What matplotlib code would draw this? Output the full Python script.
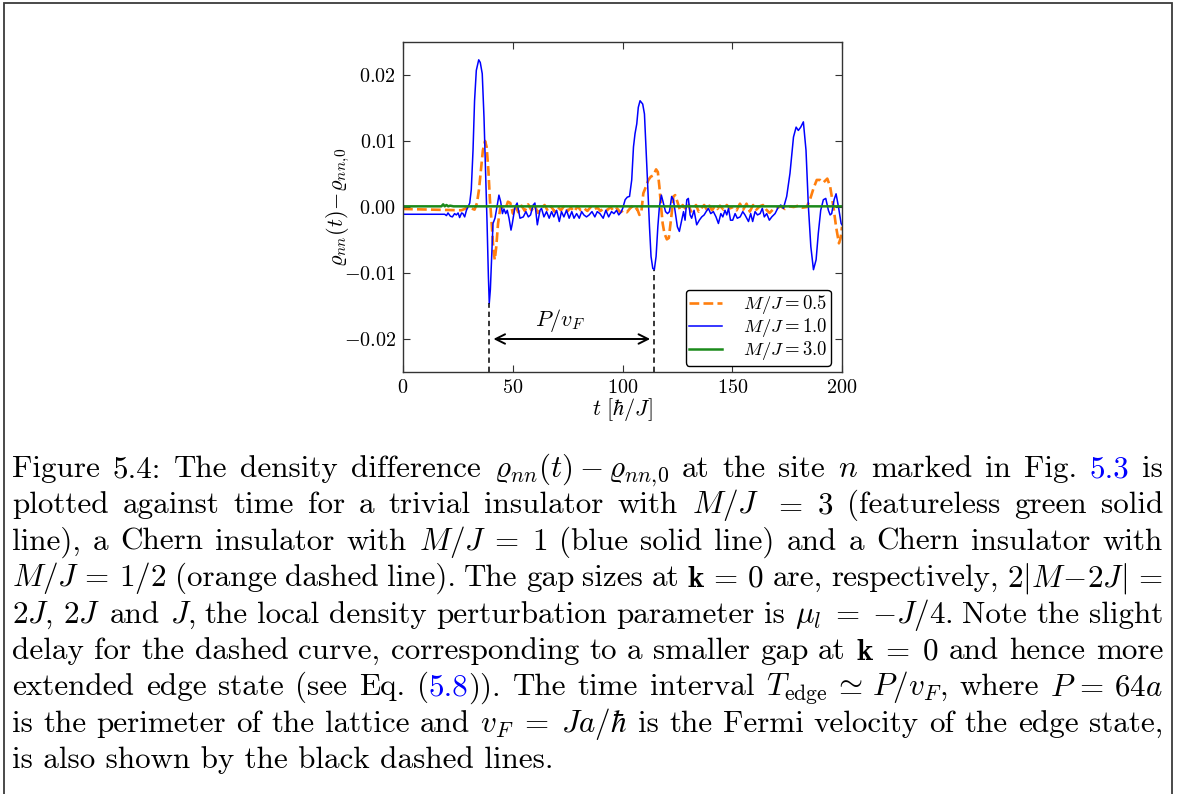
import re
import numpy as np
import matplotlib
matplotlib.use("Agg")
import matplotlib.pyplot as plt
from matplotlib.patches import Rectangle
from matplotlib.ticker import FuncFormatter

plt.rcParams.update({
    "font.family": "cmr10",
    "mathtext.fontset": "cm",
    "axes.formatter.use_mathtext": True,
    "axes.unicode_minus": True,
})

# ---------------------------------------------------------------- data
# density difference rho_nn(t) - rho_nn,0 at the marked site, t in hbar/J
t_half = [0, 26.6, 28.0, 29.6, 31.1, 32.6, 33.7, 34.6, 35.5, 36.4, 37.4, 38.1, 38.9,
          39.6, 40.4, 41.2, 41.8, 42.5, 43.3, 44.3, 45.6, 46.8, 47.8, 48.9, 50.1,
          51.0, 52.5, 54.0, 55.5, 57.0, 58.5, 60.0, 61.5, 63.0, 64.5, 66.0, 67.5,
          69.0, 70.5, 72.0, 73.5, 75.0, 76.5, 78.0, 79.5, 81.0, 82.5, 84.0, 85.5,
          87.0, 88.5, 90.0, 91.5, 93.0, 94.5, 96.0, 97.5, 99.0, 100.5, 102.0,
          103.2, 104.2, 105.7, 106.6, 107.7, 108.6, 109.5, 110.7, 111.8, 112.9,
          114.1, 115.3, 116.1, 116.8, 117.6, 118.3, 119.1, 120.2, 121.1, 121.7,
          122.4, 123.2, 124.0, 125.0, 126.2, 127.4, 128.5, 130.0, 131.1, 132.3,
          133.5, 134.7, 135.9, 137.2, 138.4, 139.6, 140.8, 142.0, 143.2, 144.4,
          146.0, 147.5, 149.0, 150.5, 152.0, 153.5, 155.0, 156.5, 158.0, 159.5,
          161.0, 162.5, 164.0, 165.5, 167.0, 168.5, 170.3, 172.0, 174.0, 176.0,
          178.0, 180.0, 182.0, 183.9, 185.4, 187.0, 188.5, 190.0, 191.5, 193.3,
          194.6, 196.1, 197.3, 198.6, 199.3, 200.0]
rho_half = [-0.0003, -0.0005, -0.0003, 0.0000, -0.0002, -0.0004, 0.0006, 0.0026,
            0.0056, 0.0086, 0.0100, 0.0091, 0.0056, 0.0011, -0.0025, -0.0065,
            -0.0080, -0.0060, -0.0025, -0.0002, 0.0000, -0.0002, 0.0008, 0.0006,
            -0.0010, 0.0003, -0.0008, 0.0002, -0.0006, 0.0004, -0.0005, 0.0002,
            -0.0009, -0.0002, 0.0003, -0.0006, 0.0001, -0.0007, 0.0000, -0.0005,
            0.0002, -0.0006, -0.0001, -0.0007, 0.0001, -0.0005, -0.0002, -0.0006,
            0.0000, -0.0004, -0.0001, -0.0006, -0.0002, -0.0005, 0.0000, -0.0006,
            -0.0002, -0.0008, -0.0005, -0.0008, -0.0003, 0.0001, -0.0005, -0.0002,
            -0.0012, -0.0007, 0.0021, 0.0031, 0.0041, 0.0046, 0.0048, 0.0057,
            0.0053, 0.0031, 0.0000, -0.0025, -0.0040, -0.0049, -0.0047, -0.0030,
            -0.0010, 0.0016, 0.0018, 0.0008, -0.0005, 0.0003, -0.0002, 0.0006,
            -0.0007, -0.0002, 0.0003, -0.0007, -0.0002, 0.0003, -0.0004, 0.0002,
            -0.0005, 0.0001, -0.0003, 0.0002, -0.0004, 0.0003, -0.0002, 0.0000,
            -0.0005, 0.0005, -0.0004, 0.0005, -0.0007, 0.0003, -0.0004, 0.0001,
            0.0003, -0.0004, -0.0009, -0.0004, -0.0002, 0.0001, -0.0003, 0.0001,
            0.0000, 0.0002, -0.0001, 0.0000, 0.0011, 0.0028, 0.0041, 0.0041,
            0.0037, 0.0043, 0.0031, 0.0000, -0.0030, -0.0055, -0.0048, -0.0030]

t_one = [0, 19.0, 19.8, 20.5, 21.6, 22.5, 23.5, 24.3, 25.1, 25.8, 26.7, 27.3, 28.1,
         28.9, 29.6, 30.4, 31.1, 31.9, 32.6, 33.4, 34.5, 35.2, 36.1, 36.9, 37.7,
         38.3, 38.9, 39.3, 39.8, 40.4, 41.0, 41.9, 42.8, 43.7, 44.5, 45.3, 46.0,
         46.8, 47.5, 48.3, 49.2, 49.8, 51.0, 52.0, 53.3, 54.8, 56.0, 57.1, 58.1,
         59.3, 60.1, 61.2, 62.4, 63.1, 64.2, 65.4, 66.6, 67.7, 68.7, 70.0, 71.2,
         72.2, 73.3, 74.5, 75.7, 76.9, 77.9, 79.1, 80.3, 81.4, 82.4, 83.6, 84.8,
         86.1, 87.4, 88.5, 89.7, 91.2, 92.4, 93.7, 95.0, 96.1, 97.3, 98.3, 99.3,
         100.1, 101.2, 102.2, 103.2, 104.2, 105.0, 105.7, 106.5, 107.2, 108.0,
         109.2, 110.0, 110.7, 111.5, 112.3, 113.0, 113.8, 114.5, 115.3, 116.1,
         116.8, 117.7, 118.6, 119.6, 120.5, 121.4, 122.4, 123.2, 124.0, 125.0,
         125.9, 127.0, 127.8, 128.5, 129.3, 130.0, 130.8, 131.5, 132.6, 133.8,
         135.0, 136.1, 137.2, 138.1, 139.1, 140.2, 141.4, 142.6, 143.7, 144.8,
         145.7, 146.7, 147.5, 148.3, 149.2, 150.2, 151.3, 152.3, 153.6, 154.8,
         155.8, 157.4, 158.4, 159.3, 160.4, 161.5, 162.7, 163.7, 164.6, 165.7,
         166.9, 168.0, 169.5, 171.0, 172.1, 173.3, 174.8, 176.3, 177.9, 179.1,
         180.1, 181.2, 182.4, 183.6, 184.7, 185.8, 187.0, 188.2, 189.2, 190.3,
         191.5, 192.6, 193.8, 194.6, 195.3, 196.4, 197.3, 198.4, 199.6, 200.0]
rho_one = [-0.0011, -0.0011, -0.0013, -0.0009, -0.0014, -0.0015, -0.0010, -0.0012,
           -0.0009, -0.0016, -0.0009, -0.0010, -0.0015, -0.0005, 0.0000, 0.0006,
           0.0026, 0.0086, 0.0161, 0.0207, 0.0223, 0.0219, 0.0202, 0.0136, 0.0046,
           -0.0025, -0.0105, -0.0146, -0.0125, -0.0075, -0.0025, -0.0017, 0.0000,
           0.0018, 0.0008, -0.0010, -0.0003, -0.0010, -0.0005, -0.0017, -0.0035,
           -0.0025, 0.0000, 0.0006, -0.0017, -0.0015, -0.0007, -0.0015, -0.0012,
           0.0003, 0.0006, -0.0027, -0.0005, -0.0002, -0.0015, -0.0007, -0.0017,
           -0.0007, -0.0015, -0.0005, -0.0022, -0.0007, -0.0015, -0.0005, -0.0017,
           -0.0007, -0.0017, -0.0010, -0.0017, -0.0007, -0.0012, -0.0015, -0.0012,
           -0.0007, -0.0015, -0.0007, -0.0010, -0.0017, -0.0005, -0.0015, -0.0007,
           -0.0010, -0.0005, -0.0012, -0.0008, -0.0002, 0.0011, 0.0015, 0.0016,
           0.0041, 0.0091, 0.0111, 0.0126, 0.0151, 0.0161, 0.0156, 0.0141, 0.0091,
           0.0031, -0.0030, -0.0075, -0.0093, -0.0095, -0.0075, -0.0030, 0.0000,
           0.0018, 0.0006, -0.0007, -0.0010, -0.0007, 0.0016, 0.0011, -0.0007,
           -0.0030, -0.0037, -0.0020, -0.0007, -0.0020, 0.0011, 0.0013, -0.0012,
           -0.0017, -0.0005, -0.0027, -0.0020, -0.0015, -0.0012, -0.0007, -0.0002,
           -0.0010, -0.0007, -0.0015, -0.0025, -0.0010, -0.0015, -0.0005, -0.0012,
           -0.0002, -0.0020, -0.0020, -0.0010, -0.0017, -0.0015, -0.0007, -0.0012,
           -0.0022, -0.0010, -0.0022, -0.0007, -0.0012, -0.0010, -0.0002, -0.0015,
           -0.0010, -0.0020, -0.0015, -0.0010, 0.0000, 0.0003, -0.0002, 0.0016,
           0.0051, 0.0106, 0.0121, 0.0116, 0.0121, 0.0129, 0.0086, 0.0000, -0.0060,
           -0.0095, -0.0080, -0.0040, -0.0005, 0.0011, 0.0013, -0.0005, -0.0012,
           -0.0010, 0.0011, 0.0020, 0.0000, -0.0025, -0.0027]

t_three = [0, 17.5, 18.3, 19.0, 19.8, 20.6, 21.5, 23.0, 200.0]
rho_three = [0.0001, 0.0001, 0.0004, 0.0001, 0.0003, 0.0001, 0.0002, 0.0001, 0.0001]

series_labels = [r"$M/J=0.5$", r"$M/J=1.0$", r"$M/J=3.0$"]

# arrival times of the edge pulse (blue minima) spanning T_edge = P/v_F
t_edge = [39.3, 114.5]

x_ticks = [0, 50, 100, 150, 200]
y_ticks = [-0.02, -0.01, 0.0, 0.01, 0.02]

# ---------------------------------------------------------------- figure
W, H = 1178, 794
fig = plt.figure(figsize=(W / 100, H / 100), dpi=100)
fig.patch.set_facecolor("white")


def fx(x):
    return x / W


def fy(y):
    return 1 - y / H


AX_L, AX_R, AX_T, AX_B = 403, 842, 42, 372
ax = fig.add_axes([fx(AX_L), fy(AX_B), (AX_R - AX_L) / W, (AX_B - AX_T) / H])

ax.plot(t_half, rho_half, ls="--", color="#ff7f0e", lw=1.9, label=series_labels[0])
ax.plot(t_one, rho_one, ls="-", color="#0000ff", lw=1.1, label=series_labels[1])
ax.plot(t_three, rho_three, ls="-", color="#1b8a1b", lw=1.8, label=series_labels[2])

ax.set_xlim(0, 200)
ax.set_ylim(-0.025, 0.025)

# dashed markers from the blue pulse minima down to the bottom of the frame
for te in t_edge:
    y_top = np.interp(te, t_one, rho_one)
    ax.plot([te, te], [-0.025, y_top], ls=(0, (3.5, 2.5)), color="black", lw=1.1)

ax.annotate("", xy=(t_edge[1], -0.02), xytext=(t_edge[0], -0.02),
            arrowprops=dict(arrowstyle="<->", color="black", lw=1.4,
                            shrinkA=3, shrinkB=3, mutation_scale=17))
ax.text(71.5, -0.0172, r"$P/v_F$", ha="center", va="center", fontsize=16)

ax.set_xticks(x_ticks)
ax.set_yticks(y_ticks)
ax.xaxis.set_major_formatter(FuncFormatter(lambda v, _: f"${v:.0f}$"))


def yfmt(v, _):
    s = f"{v:.2f}"
    if s == "-0.00":
        s = "0.00"
    return f"${s}$"


ax.yaxis.set_major_formatter(FuncFormatter(yfmt))
ax.tick_params(direction="in", top=True, right=True, length=5, width=0.8,
               color="#333333", labelsize=14.5, pad=5)
for sp in ax.spines.values():
    sp.set_color("#333333")
    sp.set_linewidth(1.0)

ax.set_xlabel(r"$t\ [\hbar/J]$", fontsize=16)
ax.xaxis.set_label_coords(0.5, (AX_B - 396) / (AX_B - AX_T))
ax.set_ylabel(r"$\varrho_{nn}(t)\!-\!\varrho_{nn,\!0}$", fontsize=16)
ax.yaxis.set_label_coords((352 - AX_L) / (AX_R - AX_L), 0.5)

leg = ax.legend(loc="lower right",
                bbox_to_anchor=(1 - 11 / (AX_R - AX_L), 6 / (AX_B - AX_T)),
                borderaxespad=0.0, fontsize=13.5, fancybox=True, framealpha=1,
                edgecolor="black", handlelength=1.75, handletextpad=1.1,
                borderpad=0.2, labelspacing=0.0)
leg.get_frame().set_linewidth(1.0)

# ---------------------------------------------------------------- caption
LINK = "#0000ff"
CAP_FS = 22.4
CAP_LEFT, CAP_RIGHT = 12, 1163
BASE0, LEAD = 477, 36.4

caption_lines = [
    r"Figure 5.4: The density difference $\varrho_{nn}(t)-\varrho_{nn,\!0}$ at the site $n$ marked in Fig. [5.3] is",
    r"plotted against time for a trivial insulator with $M/J$ $=$ $3$ (featureless green solid",
    r"line), a Chern insulator with $M/J\;=\;1$ (blue solid line) and a Chern insulator with",
    r"$M/J\,=\,1/2$ (orange dashed line). The gap sizes at $\mathbf{k}\,=\,0$ are, respectively, $2|M\!-\!2J|\,=$",
    r"$2J,\,2J$ and $J$, the local density perturbation parameter is $\mu_l\;=\;{-J/4}$. Note the slight",
    r"delay for the dashed curve, corresponding to a smaller gap at $\mathbf{k}\;=\;0$ and hence more",
    r"extended edge state (see Eq. ([5.8])). The time interval $T_{\mathrm{edge}}\,\simeq\,P/v_F$, where $P\,=\,64a$",
    r"is the perimeter of the lattice and $v_F\;=\;Ja/\hbar$ is the Fermi velocity of the edge state,",
    r"is also shown by the black dashed lines.",
]


def split_words(line):
    """Split a caption line on spaces that lie outside $...$ math."""
    words, cur, in_math = [], "", False
    for ch in line:
        if ch == "$":
            in_math = not in_math
        if ch == " " and not in_math:
            if cur:
                words.append(cur)
            cur = ""
        else:
            cur += ch
    if cur:
        words.append(cur)
    return words


renderer = fig.canvas.get_renderer()
for i, line in enumerate(caption_lines):
    yb = BASE0 + LEAD * i
    if i == len(caption_lines) - 1:
        fig.text(fx(CAP_LEFT), fy(yb), line, fontsize=CAP_FS, va="baseline", ha="left")
        continue
    words = []
    for w in split_words(line):
        texts = []
        for p in re.split(r"(\[[^\]]*\])", w):
            if not p:
                continue
            is_link = p.startswith("[")
            s = p[1:-1] if is_link else p
            texts.append(fig.text(0, 0, s, fontsize=CAP_FS, va="baseline", ha="left",
                                  color=LINK if is_link else "black"))
        widths = [t.get_window_extent(renderer).width for t in texts]
        words.append((texts, widths))
    total = sum(sum(wd) for _, wd in words)
    gap = (CAP_RIGHT - CAP_LEFT - total) / (len(words) - 1)
    x = CAP_LEFT
    for texts, widths in words:
        for t, wd in zip(texts, widths):
            t.set_position((fx(x), fy(yb)))
            x += wd
        x += gap

# page frame around figure and caption
fig.add_artist(Rectangle((fx(4), -0.05), (1172 - 4) / W, fy(3) + 0.05,
                         transform=fig.transFigure, fill=False,
                         edgecolor="#3a3a3a", linewidth=1.3))

fig.savefig("out.png", dpi=100, facecolor="white")
